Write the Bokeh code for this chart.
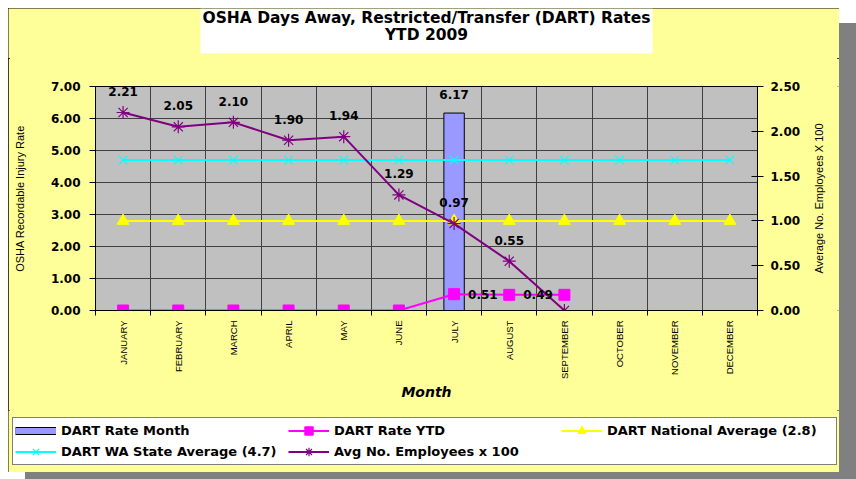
import math
from bokeh.plotting import figure
from bokeh.layouts import column, row
from bokeh.models import (FactorRange, Range1d, LinearAxis, FixedTicker, NumeralTickFormatter,
                          Grid, Legend, LegendItem, Label, BoxAnnotation)
from bokeh.core.properties import value
from bokeh.embed import file_html
from bokeh.resources import INLINE

# ---------------- data ----------------
months = ["JANUARY", "FEBRUARY", "MARCH", "APRIL", "MAY", "JUNE",
          "JULY", "AUGUST", "SEPTEMBER", "OCTOBER", "NOVEMBER", "DECEMBER"]

bar_months = ["JULY"]
bar_values = [6.17]
bar_labels = ["6.17"]

ytd_months = ["JANUARY", "FEBRUARY", "MARCH", "APRIL", "MAY", "JUNE", "JULY", "AUGUST", "SEPTEMBER"]
ytd_values = [0.00, 0.00, 0.00, 0.00, 0.00, 0.00, 0.51, 0.49, 0.49]
ytd_labels = ["", "", "", "", "", "", "0.51", "0.49", ""]

national_avg = [2.8, 2.8, 2.8, 2.8, 2.8, 2.8, 2.8, 2.8, 2.8, 2.8, 2.8, 2.8]
wa_avg = [4.7, 4.7, 4.7, 4.7, 4.7, 4.7, 4.7, 4.7, 4.7, 4.7, 4.7, 4.7]

emp_months = ["JANUARY", "FEBRUARY", "MARCH", "APRIL", "MAY", "JUNE", "JULY", "AUGUST", "SEPTEMBER"]
emp_values = [2.21, 2.05, 2.10, 1.90, 1.94, 1.29, 0.97, 0.55, 0.00]
emp_labels = ["2.21", "2.05", "2.10", "1.90", "1.94", "1.29", "0.97", "0.55", ""]

left_ticks = [0, 1, 2, 3, 4, 5, 6, 7]
right_ticks = [0, 0.5, 1.0, 1.5, 2.0, 2.5]

title_line1 = "OSHA Days Away, Restricted/Transfer (DART) Rates"
title_line2 = "YTD 2009"
x_title = "Month"
left_title = "OSHA Recordable Injury Rate"
right_title = "Average No. Employees X 100"
legend_labels = ["DART Rate Month", "DART Rate YTD", "DART National Average (2.8)",
                 "DART WA State Average (4.7)", "Avg No. Employees x 100"]

# colours
C_BAR, C_YTD, C_NAT, C_WA, C_EMP = "#9999FF", "#FF00FF", "#FFFF00", "#00FFFF", "#800080"
C_AREA, C_PLOT, C_GRID = "#FFFF99", "#C0C0C0", "#404040"

# factor-range synthetic coordinates: category centres and boundaries
centers = [i + 0.5 for i in range(len(months))]
boundaries = [i for i in range(len(months) + 1)]


def labelled(xs, ys, texts):
    keep = [i for i, t in enumerate(texts) if t]
    return [xs[i] for i in keep], [ys[i] for i in keep], [texts[i] for i in keep]


W = 831
W_RS = 31
H_TOP, H_MAIN, H_LEG = 50, 352, 62
FONT = value("DejaVu Sans")


def bare(fig):
    fig.min_border = 0
    fig.min_border_left = fig.min_border_right = fig.min_border_top = fig.min_border_bottom = 0
    fig.background_fill_color = C_AREA
    fig.border_fill_color = C_AREA
    fig.outline_line_color = None
    fig.center = []
    fig.frame_align = False
    return fig


# ---------------- title strip ----------------
p_top = bare(figure(width=W, height=H_TOP, x_range=Range1d(0, W), y_range=Range1d(H_TOP, 0),
                    x_axis_location=None, y_axis_location=None, toolbar_location=None,
                    output_backend="svg"))
p_top.add_layout(BoxAnnotation(left=192, right=644, top=0, bottom=45, fill_color="white",
                               fill_alpha=1.0, line_color=None))
t_style = dict(text_font="DejaVu Sans", text_font_size="15.5px", text_font_style="bold",
               text_color="black", text_align="center", text_baseline="middle")
p_top.add_layout(Label(x=418, y=9, text=title_line1, **t_style))
p_top.add_layout(Label(x=418, y=26, text=title_line2, **t_style))

# ---------------- main chart ----------------
p = figure(width=W - W_RS, height=H_MAIN, x_range=FactorRange(factors=months), y_range=Range1d(0, 7),
           x_axis_location=None, y_axis_location=None, toolbar_location=None,
           output_backend="svg")
p.min_border_left, p.min_border_right, p.min_border_top, p.min_border_bottom = 87, 82 - W_RS, 28, 100
p.frame_align = False
p.center = []
p.extra_y_ranges = {"emp": Range1d(0, 2.5)}
p.background_fill_color = C_PLOT
p.border_fill_color = C_AREA
p.outline_line_color = "black"
p.outline_line_width = 1

p.add_layout(Grid(dimension=0, ticker=FixedTicker(ticks=boundaries[1:-1]),
                  grid_line_color=C_GRID, grid_line_width=1), "center")
p.add_layout(Grid(dimension=1, ticker=FixedTicker(ticks=left_ticks[1:-1]),
                  grid_line_color=C_GRID, grid_line_width=1), "center")

x_axis = LinearAxis(ticker=FixedTicker(ticks=centers, minor_ticks=boundaries),
                    major_label_overrides={c: m for c, m in zip(centers, months)},
                    major_tick_line_color=None, major_tick_out=0, major_tick_in=0,
                    minor_tick_line_color="black", minor_tick_out=5, minor_tick_in=0,
                    axis_line_color="black",
                    major_label_orientation=math.pi / 2, major_label_standoff=5,
                    major_label_text_font="Liberation Sans",
                    major_label_text_font_size="9.5px", major_label_text_color="black",
                    axis_label=x_title, axis_label_standoff=2,
                    axis_label_text_font="DejaVu Sans", axis_label_text_font_size="14px",
                    axis_label_text_font_style="bold italic", axis_label_text_color="black")
p.add_layout(x_axis, "below")

left_axis = LinearAxis(ticker=FixedTicker(ticks=left_ticks),
                       formatter=NumeralTickFormatter(format="0.00"),
                       major_tick_out=6, major_tick_in=0, minor_tick_line_color=None,
                       major_label_standoff=9, major_label_text_font="DejaVu Sans",
                       major_label_text_font_size="12px", major_label_text_font_style="bold",
                       major_label_text_color="black",
                       axis_label=left_title, axis_label_standoff=22,
                       axis_label_text_font="Liberation Sans", axis_label_text_font_size="11px",
                       axis_label_text_font_style="normal", axis_label_text_color="black")
p.add_layout(left_axis, "left")

right_axis = LinearAxis(y_range_name="emp", ticker=FixedTicker(ticks=right_ticks),
                        formatter=NumeralTickFormatter(format="0.00"),
                        major_tick_out=6, major_tick_in=6, minor_tick_line_color=None,
                        major_label_standoff=7, major_label_text_font="DejaVu Sans",
                        major_label_text_font_size="12px", major_label_text_font_style="bold",
                        major_label_text_color="black")
p.add_layout(right_axis, "right")

p.vbar(x=bar_months, top=bar_values, width=0.37, fill_color=C_BAR, line_color="black", line_width=1)
p.line(x=ytd_months, y=ytd_values, line_color=C_YTD, line_width=2)
p.scatter(x=ytd_months, y=ytd_values, marker="square", size=11, fill_color=C_YTD, line_color=C_YTD)
p.line(x=months, y=national_avg, line_color=C_NAT, line_width=2)
p.scatter(x=months, y=national_avg, marker="triangle", size=12, fill_color=C_NAT, line_color=C_NAT)
p.line(x=months, y=wa_avg, line_color=C_WA, line_width=2)
p.scatter(x=months, y=wa_avg, marker="x", size=12, line_color=C_WA, line_width=1.2)
p.line(x=emp_months, y=emp_values, y_range_name="emp", line_color=C_EMP, line_width=2)
p.scatter(x=emp_months, y=emp_values, y_range_name="emp", marker="asterisk", size=13,
          line_color=C_EMP, line_width=1.2)

lbl = dict(text_font=FONT, text_font_size="12px", text_font_style="bold", text_color="black")
p.text(x=bar_months, y=bar_values, text=bar_labels, text_align="center",
       text_baseline="middle", y_offset=-19, **lbl)
ex, ey, et = labelled(emp_months, emp_values, emp_labels)
p.text(x=ex, y=ey, text=et, y_range_name="emp", text_align="center",
       text_baseline="middle", y_offset=-21, **lbl)
yx, yy, yt = labelled(ytd_months, ytd_values, ytd_labels)
p.text(x=yx, y=yy, text=yt, text_align="left", text_baseline="middle", x_offset=14, **lbl)

# ---------------- right-hand axis title strip (reads bottom to top) ----------------
p_rs = figure(width=W_RS, height=H_MAIN, x_range=Range1d(0, 1), y_range=Range1d(0, 2.5),
              x_axis_location=None, y_axis_location=None, toolbar_location=None,
              output_backend="svg")
p_rs.min_border_left, p_rs.min_border_right, p_rs.min_border_top, p_rs.min_border_bottom = 20, 0, 28, 100
p_rs.frame_align = False
p_rs.center = []
p_rs.background_fill_color = C_AREA
p_rs.border_fill_color = C_AREA
p_rs.outline_line_color = None
p_rs.add_layout(LinearAxis(ticker=FixedTicker(ticks=[]), axis_line_color=None,
                           major_tick_line_color=None, minor_tick_line_color=None,
                           major_tick_out=0, major_tick_in=0, major_label_standoff=0,
                           axis_label=right_title, axis_label_standoff=4,
                           axis_label_text_font="Liberation Sans", axis_label_text_font_size="11px",
                           axis_label_text_font_style="normal", axis_label_text_color="black"),
                "left")

# ---------------- legend strip ----------------
# same series drawn against a range that keeps them off this strip; only their legend swatches show
p_leg = bare(figure(width=W, height=H_LEG, x_range=FactorRange(factors=months),
                    y_range=Range1d(-1000, -900), x_axis_location=None, y_axis_location=None,
                    toolbar_location=None, output_backend="svg"))
sw_outer = p_leg.line(x=bar_months, y=bar_values, line_color="black", line_width=8)
sw_inner = p_leg.line(x=bar_months, y=bar_values, line_color=C_BAR, line_width=6)
l_ytd = p_leg.line(x=ytd_months, y=ytd_values, line_color=C_YTD, line_width=2)
m_ytd = p_leg.scatter(x=ytd_months, y=ytd_values, marker="square", fill_color=C_YTD, line_color=C_YTD)
l_nat = p_leg.line(x=months, y=national_avg, line_color=C_NAT, line_width=2)
m_nat = p_leg.scatter(x=months, y=national_avg, marker="triangle", fill_color=C_NAT, line_color=C_NAT)
l_wa = p_leg.line(x=months, y=wa_avg, line_color=C_WA, line_width=2)
m_wa = p_leg.scatter(x=months, y=wa_avg, marker="x", line_color=C_WA, line_width=1.2)
l_emp = p_leg.line(x=emp_months, y=emp_values, line_color=C_EMP, line_width=2)
m_emp = p_leg.scatter(x=emp_months, y=emp_values, marker="asterisk", line_color=C_EMP, line_width=1.2)

legend = Legend(items=[
    LegendItem(label=legend_labels[0], renderers=[sw_outer, sw_inner]),
    LegendItem(label=legend_labels[1], renderers=[l_ytd, m_ytd]),
    LegendItem(label=legend_labels[2], renderers=[l_nat, m_nat]),
    LegendItem(label=legend_labels[3], renderers=[l_wa, m_wa]),
    LegendItem(label=legend_labels[4], renderers=[l_emp, m_emp]),
], location=(4, 7), orientation="horizontal", ncols=3,
    glyph_width=41, glyph_height=21, label_height=21, label_width=227,
    label_standoff=5, spacing=0, padding=2, margin=0,
    label_text_font="DejaVu Sans", label_text_font_size="13px", label_text_font_style="bold",
    label_text_color="black", border_line_color="black", border_line_width=1,
    background_fill_color="white", background_fill_alpha=1.0)
p_leg.add_layout(legend, "center")

layout = column(p_top, row(p, p_rs, spacing=0), p_leg, spacing=0)
layout.styles = {"margin-left": "8px", "margin-top": "8px", "background": C_AREA,
                 "outline": "2px solid black", "outline-offset": "-2px",
                 "box-shadow": "17px 15px 0 #808080"}

open("out.html", "w").write(file_html(layout, INLINE))
